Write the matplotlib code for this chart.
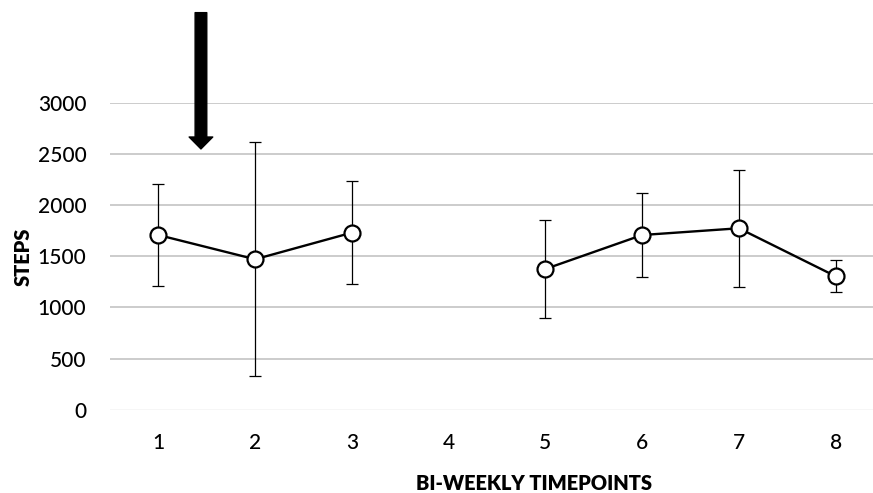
import numpy as np
import matplotlib
matplotlib.use("Agg")
import matplotlib.pyplot as plt

plt.rcParams['font.family'] = ['Lato', 'DejaVu Sans']

timepoints = [1, 2, 3, 4, 5, 6, 7, 8]
tick_labels = ['1', '2', '3', '4', '5', '6', '7', '8']
mean_steps = [1707, 1470, 1730, np.nan, 1375, 1707, 1773, 1304]
err_steps = [495, 1143, 500, np.nan, 478, 410, 570, 156]
yticks = [0, 500, 1000, 1500, 2000, 2500, 3000]
arrow_x = 1.44
arrow_tip = 2548
arrow_tail = 3880

W, H = 873, 493
fig = plt.figure(figsize=(W / 100, H / 100), dpi=100)
ax = fig.add_axes([110 / W, (H - 409.7) / H, (W - 110) / W, (409.7 - 102.7) / H])

for yt in yticks:
    ax.axhline(yt, color='#bfbfbf' if yt > 0 else '#f4f4f4', lw=1.1, zorder=0)

ax.errorbar(timepoints, mean_steps, yerr=err_steps, fmt='none', ecolor='#000000',
            elinewidth=0.9, capsize=4, capthick=0.9, zorder=2)
ax.plot(timepoints, mean_steps, color='black', lw=1.7, marker='o', markersize=11.5,
        markerfacecolor='white', markeredgecolor='black', markeredgewidth=1.6, zorder=3)

ax.set_xlim(0.5, 8.386)
ax.set_ylim(0, 3000)
ax.set_xticks(timepoints)
ax.set_xticklabels(tick_labels)
ax.set_yticks(yticks)
ax.set_yticklabels([str(v) for v in yticks])
ax.tick_params(axis='both', length=0, labelsize=15, colors='black')
ax.tick_params(axis='y', pad=17)
ax.tick_params(axis='x', pad=17)
for lbl in ax.get_xticklabels() + ax.get_yticklabels():
    lbl.set_fontweight('medium')
for s in ax.spines.values():
    s.set_visible(False)

ax.annotate('', xy=(arrow_x, arrow_tip), xytext=(arrow_x, arrow_tail),
            annotation_clip=False,
            arrowprops=dict(arrowstyle='simple,head_width=1.7,head_length=0.86,tail_width=0.84',
                            color='black', shrinkA=0, shrinkB=0, mutation_scale=10))

fig.text(23 / W, 1 - 257 / H, 'STEPS', rotation=90, ha='center', va='center',
         fontsize=14.4, fontweight='heavy')
fig.text(534 / W, 1 - 483 / H, 'BI-WEEKLY TIMEPOINTS', ha='center', va='center',
         fontsize=14.4, fontweight='heavy')

fig.savefig('out.png', dpi=100)
